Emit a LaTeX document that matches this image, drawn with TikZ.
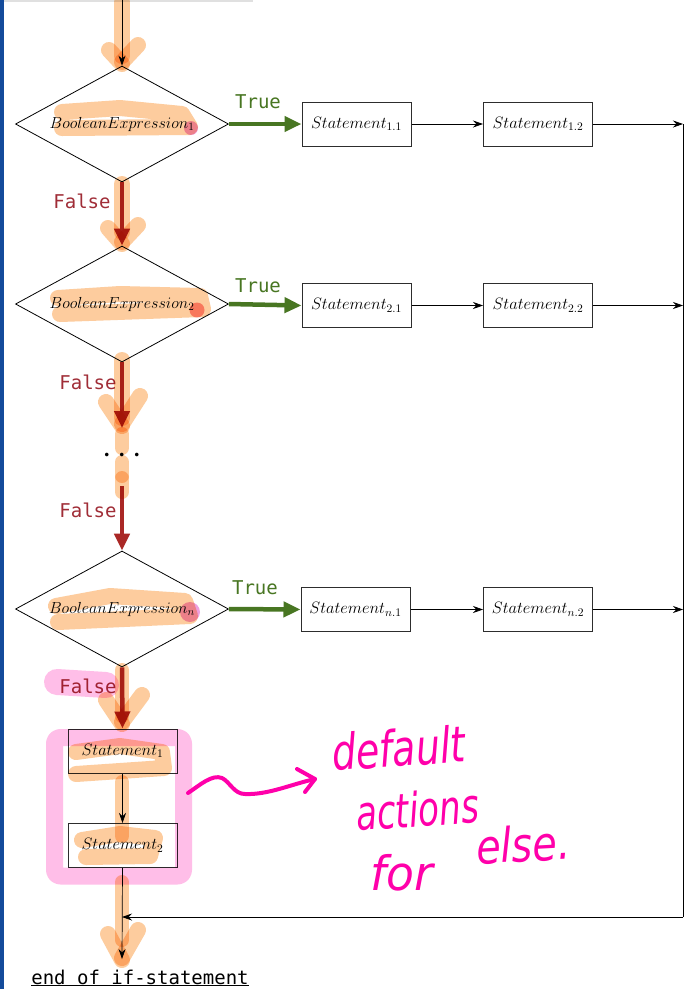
\documentclass[tikz,border=0pt]{standalone}
\usepackage{fix-cm}
\usepackage{fontspec}
\newfontfamily\monofont{DejaVu Sans Mono}
\newfontfamily\handfont{DejaVu Sans}
\usetikzlibrary{shapes.geometric,arrows.meta}

\definecolor{truegreen}{RGB}{72,118,34}
\definecolor{falsered}{RGB}{170,40,38}
\definecolor{labelred}{RGB}{160,45,55}
\definecolor{hlorange}{RGB}{253,204,158}
\definecolor{hlpink}{RGB}{255,190,232}
\definecolor{hldot}{RGB}{238,160,222}
\definecolor{hlsalmon}{RGB}{250,150,150}
\definecolor{inkpink}{RGB}{255,0,170}
\definecolor{barblue}{RGB}{20,75,155}
\definecolor{boxgray}{RGB}{45,45,45}

\begin{document}
\begin{tikzpicture}[x=1pt,y=-1pt,
  cond/.style={diamond, shape aspect=2, draw, line width=0.8pt, minimum width=213pt,
    minimum height=116pt, inner sep=0pt, font=\fontsize{16}{19}\selectfont},
  stmt/.style={rectangle, draw=boxgray, line width=1pt, minimum width=109pt,
    minimum height=44pt, inner sep=0pt, font=\fontsize{16.5}{19}\selectfont},
  flow/.style={-{Stealth[length=10pt,width=7pt]}, line width=0.7pt},
  yes/.style={draw=truegreen, line width=4.5pt, -{Triangle[length=17pt,width=15pt]}},
  no/.style={draw=falsered, line width=4.5pt, -{Triangle[length=17pt,width=15pt]}},
  yeslabel/.style={font=\monofont\fontsize{19}{22}\selectfont, text=truegreen},
  nolabel/.style={font=\monofont\fontsize{19}{22}\selectfont, text=labelred},
  hl/.style={draw=hlorange, blend mode=multiply, line width=16pt, line cap=round, line join=round},
  hlp/.style={draw=hlpink, blend mode=multiply, line cap=round, line join=round},
  dotpink/.style={fill=hldot, blend mode=multiply},
  ink/.style={draw=inkpink, line width=4pt, line cap=round, line join=round},
  hand/.style={text=inkpink, font=\handfont\itshape\fontsize{38}{40}\selectfont,
    inner sep=0pt, anchor=base west}
]
\useasboundingbox (0,0) rectangle (690,989);
\fill[white] (0,0) rectangle (690,989);

% page edge decorations
\fill[barblue] (0,0) rectangle (3.5,989);
\fill[black!12] (3.5,0) rectangle (253,1.6);

% conditions
\node[cond] (d1) at (122,124) {$BooleanExpression_1$};
\node[cond] (d2) at (122,304) {$BooleanExpression_2$};
\node[cond] (dn) at (122,609) {$BooleanExpression_n$};

% statements on the true branches
\node[stmt] (s11) at (356.5,124) {$Statement_{1.1}$};
\node[stmt] (s12) at (538,124) {$Statement_{1.2}$};
\node[stmt] (s21) at (356.5,305.5) {$Statement_{2.1}$};
\node[stmt] (s22) at (538,305.5) {$Statement_{2.2}$};
\node[stmt] (sn1) at (355.5,609.5) {$Statement_{n.1}$};
\node[stmt] (sn2) at (538,609.5) {$Statement_{n.2}$};

% default statements
\node[stmt] (s1) at (122.5,751) {$Statement_1$};
\node[stmt] (s2) at (122.5,845.5) {$Statement_2$};

% ellipsis between conditions
\node[font=\fontsize{34}{36}\selectfont, inner sep=0pt] (dots) at (122,456) {$\cdots$};

% end text
\node[font=\monofont\fontsize{19}{22}\selectfont, anchor=base, inner sep=0pt] (fin) at (140,984) {\underline{end of if-statement}};

% helper points
\coordinate (start) at (122,0);
\coordinate (r1) at (683,124);
\coordinate (r2) at (683,305.5);
\coordinate (rn) at (683,609.5);
\coordinate (rb) at (683,917);
\coordinate (merge) at (122,917);
\coordinate (finin) at (122,959);
\coordinate (dotsin) at (122,428);
\coordinate (dotsout) at (122,486);

% flow
\draw[flow] (start) -- (d1.north);
\draw[yes] (d1.east) -- (s11.west);
\draw[yes] (d2.east) -- (s21.west);
\draw[yes] (dn.east) -- (sn1.west);
\draw[flow] (s11) -- (s12);
\draw[flow] (s21) -- (s22);
\draw[flow] (sn1) -- (sn2);
\draw[flow] (s12) -- (r1);
\draw[flow] (s22) -- (r2);
\draw[flow] (sn2) -- (rn);
\draw[line width=0.7pt] (r1) -- (rb);
\draw[flow] (rb) -- (merge);
\draw[no] (d1.south) -- (d2.north);
\draw[no] (d2.south) -- (dotsin);
\draw[no] (dotsout) -- (dn.north);
\draw[no] (dn.south) -- (s1.north);
\draw[flow] (s1) -- (s2);
\draw[flow] (s2.south) -- (finin);

% branch labels
\node[yeslabel] (t1) at (258,102) {True};
\node[yeslabel] (t2) at (258,286) {True};
\node[yeslabel] (tn) at (255,588) {True};
\node[nolabel] (f1) at (82,201) {False};
\node[nolabel] (f2) at (88,382) {False};
\node[nolabel] (f3) at (88,510) {False};
\node[nolabel] (fn) at (88,686) {False};

% highlighter marks
\draw[hl] (122,2) -- (122,56);
\draw[hl] (109,50) -- (122,64);
\draw[hl] (138,45) -- (122,62);
\draw[hl] (62,112) -- (120,108) -- (182,114) -- (190,127) -- (62,128);
\fill[dotpink] (191,128) circle (7);

\draw[hl] (122,184) -- (122,232);
\draw[hl] (108,228) -- (122,244);
\draw[hl] (138,225) -- (122,242);
\draw[hl] (58,298) -- (120,294) -- (200,296) -- (203,309) -- (60,314);
\fill[hlsalmon, blend mode=multiply] (197,310) circle (7.5);

\draw[hl] (122,360) -- (122,418);
\draw[hl] (106,402) -- (122,426);
\draw[hl] (140,396) -- (122,424);
\draw[hl, line width=14pt] (122,434) -- (122,448);
\draw[hl, line width=14pt] (122,462) -- (122,476);
\draw[hl, line width=14pt] (122,478) -- (122,492);

\draw[hl] (56,606) -- (110,596) -- (185,601) -- (190,616) -- (58,622);
\fill[dotpink] (190,612) circle (10);
\draw[hlp, line width=26pt] (57,682) -- (106,685);

\draw[hl, line width=14pt] (122,670) -- (122,716);
\draw[hl] (106,700) -- (122,724);
\draw[hl] (142,695) -- (122,722);

% frame around the default block
\draw[hlp, line width=17pt, line cap=butt, rounded corners=6pt]
  (54.5,737.5) rectangle (183.5,876);

\draw[hl] (76,752) -- (120,746) -- (162,752) -- (164,768) -- (76,774);
\draw[hl, line width=14pt] (122,782) -- (122,836);
\draw[hl] (82,840) -- (120,834) -- (155,838) -- (150,856) -- (86,857);
\draw[hl, line width=14pt] (122,882) -- (122,940);
\draw[hl] (108,934) -- (122,960);
\draw[hl] (138,930) -- (122,958);

% handwritten note
\draw[ink] (188,793) .. controls (200,785) and (212,774) .. (222,778)
  .. controls (230,782) and (234,794) .. (245,794)
  .. controls (268,795) and (292,784) .. (315,779);
\draw[ink] (297,769) -- (315,779) -- (305,792);
\node[hand, rotate=4] (w1) at (333,771) {\scalebox{1}[1.3]{default}};
\node[hand, rotate=4] (w2) at (357,831) {\scalebox{0.9}[1.25]{actions}};
\node[hand] (w3) at (370,890) {\scalebox{1.2}[1.25]{for}};
\node[hand, rotate=3] (w4) at (477,864) {\scalebox{1.05}[1.25]{else.}};
\end{tikzpicture}
\end{document}
